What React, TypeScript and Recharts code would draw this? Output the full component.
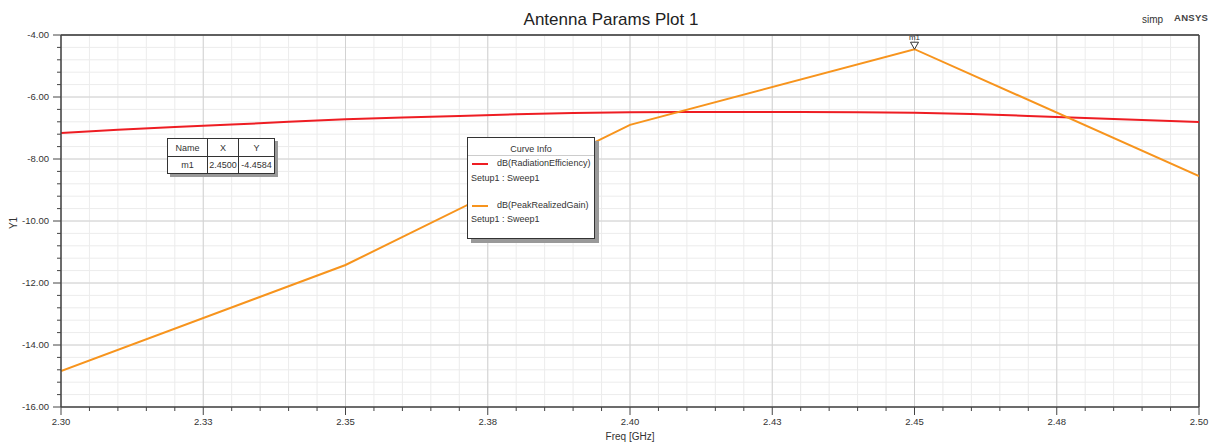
import React from 'react';
import { LineChart, Line, XAxis, YAxis, CartesianGrid, ReferenceLine, ReferenceDot } from 'recharts';

// ---- data ----
const freqRadEff = [2.30, 2.31, 2.32, 2.33, 2.34, 2.35, 2.36, 2.37, 2.38, 2.39, 2.40, 2.41, 2.42, 2.43, 2.44, 2.45, 2.46, 2.47, 2.48, 2.49, 2.50];
const radEffDb = [-7.16, -7.06, -6.97, -6.89, -6.80, -6.72, -6.66, -6.61, -6.56, -6.52, -6.49, -6.48, -6.48, -6.48, -6.49, -6.51, -6.55, -6.61, -6.68, -6.74, -6.81];
const freqGain = [2.30, 2.35, 2.40, 2.45, 2.50];
const peakGainDb = [-14.84, -11.42, -6.90, -4.4584, -8.55];

// ---- ticks ----
const xMajorTicks = [2.3, 2.325, 2.35, 2.375, 2.4, 2.425, 2.45, 2.475, 2.5];
const xTickLabels = ['2.30', '2.33', '2.35', '2.38', '2.40', '2.43', '2.45', '2.48', '2.50'];
const yMajorTicks = [-16, -14, -12, -10, -8, -6, -4];
const xMinorTicks = Array.from({ length: 41 }, (_, i) => Math.round((2.3 + i * 0.005) * 1000) / 1000);
const yMinorTicks = Array.from({ length: 31 }, (_, i) => Math.round((-16 + i * 0.4) * 10) / 10);

const marker = { name: 'm1', x: 2.45, y: -4.4584 };

const radEffData = freqRadEff.map((f, i) => ({ f, v: radEffDb[i] }));
const gainData = freqGain.map((f, i) => ({ f, v: peakGainDb[i] }));

const FONT = '"Liberation Sans", Arial, sans-serif';
const TXT = '#333';

const isMajorX = (v: number) => xMajorTicks.some((t) => Math.abs(t - v) < 1e-6);
const isMajorY = (v: number) => yMajorTicks.some((t) => Math.abs(t - v) < 1e-6);

const XTick = (props: any) => {
  const { x, y, payload } = props;
  const v = payload.value as number;
  const idx = xMajorTicks.findIndex((t) => Math.abs(t - v) < 1e-6);
  const major = idx >= 0;
  return (
    <g>
      <line x1={x} x2={x} y1={y} y2={y + (major ? 8 : 4)} stroke="#444" strokeWidth={1} />
      {major && (
        <text x={x} y={y + 18} textAnchor="middle" fontSize={9.5} fill={TXT} fontFamily={FONT}>
          {xTickLabels[idx]}
        </text>
      )}
    </g>
  );
};

const YTick = (props: any) => {
  const { x, y, payload } = props;
  const v = payload.value as number;
  const major = isMajorY(v);
  return (
    <g>
      <line x1={x - (major ? 8 : 4)} x2={x} y1={y} y2={y} stroke="#444" strokeWidth={1} />
      {major && (
        <text x={x - 12} y={y} dy="0.35em" textAnchor="end" fontSize={9.5} fill={TXT} fontFamily={FONT}>
          {v.toFixed(2)}
        </text>
      )}
    </g>
  );
};

const MarkerShape = (props: any) => {
  const { cx, cy } = props;
  return (
    <g>
      <polygon points={`${cx - 4},${cy - 7} ${cx + 4},${cy - 7} ${cx},${cy}`} fill="#fff" stroke="#333" strokeWidth={1} />
      <text x={cx} y={cy - 9} textAnchor="middle" fontSize={8} fill={TXT} fontFamily={FONT}>
        {marker.name}
      </text>
    </g>
  );
};

const abs = (s: React.CSSProperties): React.CSSProperties => ({ position: 'absolute', ...s });

export default function App() {
  return (
    <div style={abs({ left: 0, top: 0, width: 1222, height: 444, background: '#fff', fontFamily: FONT, color: TXT })}>
      <LineChart width={1222} height={444} data={radEffData} margin={{ top: 35, right: 23, left: 0, bottom: 0 }}>
        <CartesianGrid verticalValues={xMinorTicks} horizontalValues={yMinorTicks} stroke="#ececec" strokeWidth={1} />
        <CartesianGrid verticalValues={xMajorTicks} horizontalValues={yMajorTicks} stroke="#d2d2d2" strokeWidth={1} />
        <XAxis
          dataKey="f"
          type="number"
          domain={[2.3, 2.5]}
          ticks={xMinorTicks}
          interval={0}
          height={37}
          tickSize={0}
          tickMargin={0}
          tickLine={false}
          tick={<XTick />}
          axisLine={{ stroke: '#444', strokeWidth: 1.5 }}
          allowDataOverflow
        />
        <YAxis
          type="number"
          domain={[-16, -4]}
          ticks={yMinorTicks}
          interval={0}
          width={61}
          tickSize={0}
          tickMargin={0}
          tickLine={false}
          tick={<YTick />}
          axisLine={{ stroke: '#444', strokeWidth: 1.5 }}
          allowDataOverflow
        />
        <ReferenceLine y={-4} stroke="#333" strokeWidth={1.5} />
        <ReferenceLine x={2.5} stroke="#444" strokeWidth={1.5} />
        <Line data={radEffData} dataKey="v" type="linear" stroke="#ee1d23" strokeWidth={2} dot={false} isAnimationActive={false} />
        <Line data={gainData} dataKey="v" type="linear" stroke="#f7941d" strokeWidth={2} dot={false} isAnimationActive={false} />
        <ReferenceDot x={marker.x} y={marker.y} r={4} shape={<MarkerShape />} />
      </LineChart>

      {/* title & header texts */}
      <div style={abs({ left: 0, top: 10, width: 1222, textAlign: 'center', fontSize: 17, lineHeight: '20px', color: '#222' })}>
        Antenna Params Plot 1
      </div>
      <div style={abs({ left: 1142, top: 14, fontSize: 10, lineHeight: '12px', color: '#333' })}>simp</div>
      <div style={abs({ left: 1174, top: 12, fontSize: 9.5, lineHeight: '12px', fontWeight: 'bold', letterSpacing: 0.3, color: '#444' })}>ANSYS</div>

      {/* axis titles */}
      <div style={abs({ left: 14, top: 223, fontSize: 10, lineHeight: '12px', transform: 'translate(-50%, -50%) rotate(-90deg)' })}>Y1</div>
      <div style={abs({ left: 630, top: 437, fontSize: 10, lineHeight: '12px', transform: 'translate(-50%, -50%)', whiteSpace: 'nowrap' })}>
        Freq [GHz]
      </div>

      {/* marker table */}
      <table
        style={abs({
          left: 167,
          top: 138,
          borderCollapse: 'collapse',
          background: '#fff',
          fontSize: 9,
          border: '1px solid #333',
          boxShadow: '3px 3px 0 #999',
        })}
      >
        <tbody>
          <tr style={{ height: 18 }}>
            <td style={{ width: 39, border: '1px solid #333', textAlign: 'center', padding: 0 }}>Name</td>
            <td style={{ width: 30, border: '1px solid #333', textAlign: 'center', padding: 0 }}>X</td>
            <td style={{ width: 35, border: '1px solid #333', textAlign: 'center', padding: 0 }}>Y</td>
          </tr>
          <tr style={{ height: 17 }}>
            <td style={{ border: '1px solid #333', textAlign: 'center', padding: 0 }}>{marker.name}</td>
            <td style={{ border: '1px solid #333', textAlign: 'center', padding: 0 }}>{marker.x.toFixed(4)}</td>
            <td style={{ border: '1px solid #333', textAlign: 'center', padding: 0 }}>{marker.y.toFixed(4)}</td>
          </tr>
        </tbody>
      </table>

      {/* curve info legend */}
      <div
        style={abs({
          left: 467,
          top: 137,
          width: 126,
          height: 100,
          background: '#fff',
          border: '1px solid #333',
          boxShadow: '4px 4px 0 #999',
          fontSize: 9,
          lineHeight: '12px',
        })}
      >
        <div style={abs({ left: 0, top: 5, width: 126, textAlign: 'center' })}>Curve Info</div>
        <div style={abs({ left: 0, top: 17, width: 126, height: 1, background: '#ccc' })} />
        <div style={abs({ left: 4, top: 25, width: 16, height: 2, background: '#ee1d23' })} />
        <div style={abs({ left: 29, top: 19, whiteSpace: 'nowrap' })}>dB(RadiationEfficiency)</div>
        <div style={abs({ left: 3, top: 34, whiteSpace: 'nowrap' })}>Setup1 : Sweep1</div>
        <div style={abs({ left: 4, top: 67, width: 16, height: 2, background: '#f7941d' })} />
        <div style={abs({ left: 29, top: 61, whiteSpace: 'nowrap' })}>dB(PeakRealizedGain)</div>
        <div style={abs({ left: 3, top: 75, whiteSpace: 'nowrap' })}>Setup1 : Sweep1</div>
      </div>
    </div>
  );
}
